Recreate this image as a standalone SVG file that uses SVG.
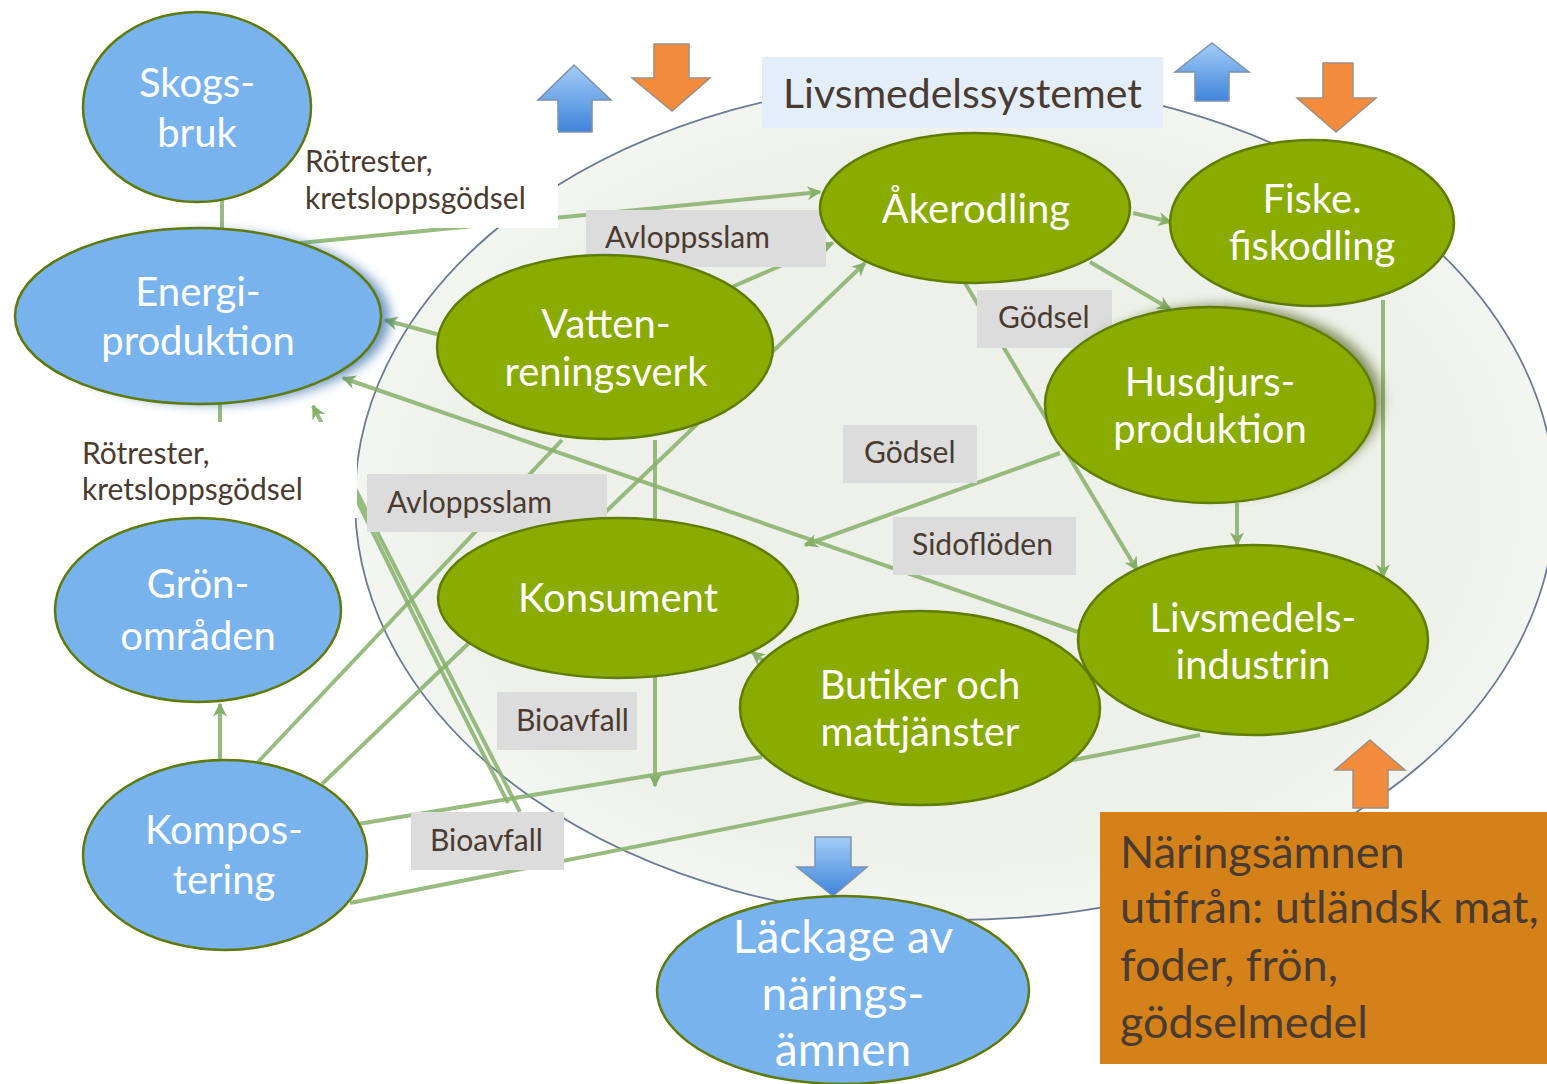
<svg xmlns="http://www.w3.org/2000/svg" width="1547" height="1084" viewBox="0 0 1547 1084">
<defs>
  <style>
    .blue{fill:#79b3ee;stroke:#5f7a08;stroke-width:2.5}
    .green{fill:#8aab00;stroke:#5f7d00;stroke-width:2.5}
    .nt{font-family:Lato,"Open Sans","Liberation Sans",sans-serif;fill:#ffffff;text-anchor:middle;font-size:40px}
    .lt{font-family:Lato,"Open Sans","Liberation Sans",sans-serif;fill:#4a3b30;font-size:30px}
    .lbox{fill:#dcdcdc}
    .wbox{fill:#ffffff}
    .con{fill:none;stroke:#86b06a;stroke-width:4;stroke-opacity:0.85}
    .arr{marker-end:url(#ah)}
    .bArrow{fill:url(#blueG);stroke:#7d93ad;stroke-width:1.5}
    .oArrow{fill:#f28c3c;stroke:#a08e82;stroke-width:1.5}
  </style>
  <marker id="ah" viewBox="0 0 10 10" refX="9" refY="5" markerUnits="userSpaceOnUse" markerWidth="16" markerHeight="14" orient="auto">
    <path d="M0,0 L10,5 L0,10 L3,5 z" fill="#86b06a"/>
  </marker>
  <linearGradient id="blueG" x1="0" y1="0" x2="0" y2="1">
    <stop offset="0" stop-color="#a3cdf7"/>
    <stop offset="1" stop-color="#3f84da"/>
  </linearGradient>
  <radialGradient id="sysG" cx="0.5" cy="0.5" r="0.5">
    <stop offset="0.85" stop-color="#eef1ea"/>
    <stop offset="1" stop-color="#f3f5f1"/>
  </radialGradient>
  <filter id="blur6" x="-20%" y="-20%" width="140%" height="140%">
    <feGaussianBlur stdDeviation="6"/>
  </filter>
</defs>

<rect width="1547" height="1084" fill="#ffffff"/>

<!-- system boundary -->
<g id="system">
  <ellipse cx="955" cy="500" rx="600" ry="420" fill="url(#sysG)" stroke="#6b7b95" stroke-width="1.8"/>
</g>

<!-- block arrows -->
<g id="flow-arrows">
  <path class="bArrow" d="M574,65 L611,100 L592,100 L592,132 L558,132 L558,100 L538,100 Z"/>
  <path class="oArrow" d="M654,44 L689,44 L689,78 L710,78 L672,111 L632,78 L654,78 Z"/>
  <path class="bArrow" d="M1212,43 L1249,72 L1229,72 L1229,101 L1195,101 L1195,72 L1175,72 Z"/>
  <path class="oArrow" d="M1323,63 L1353,63 L1353,98 L1376,98 L1336,132 L1297,98 L1323,98 Z"/>
  <path class="bArrow" d="M815,837 L851,837 L851,867 L867,867 L833,896 L797,867 L815,867 Z"/>
  <path class="oArrow" d="M1370,740 L1405,770 L1388,770 L1388,808 L1353,808 L1353,770 L1335,770 Z"/>
</g>

<!-- connectors -->
<g id="connectors">
  <path class="con" d="M222,200 L222,232"/>
  <path class="con" d="M220,404 L220,520"/>
  <path class="con arr" d="M220,760 L220,704"/>
  <path class="con arr" d="M300,243 L820,192"/>
  <path class="con arr" d="M440,335 L385,320"/>
  <path class="con arr" d="M1078,632 L343,378"/>
  <path class="con arr" d="M520,812 L313,406"/>
  <path class="con" d="M508,803 Q430,650 335,455"/>
  <path class="con arr" d="M322,784 L865,263"/>
  <path class="con" d="M258,762 L562,440"/>
  <path class="con arr" d="M725,290 L833,243"/>
  <path class="con arr" d="M655,440 L655,786"/>
  <path class="con" d="M358,824 L762,757"/>
  <path class="con" d="M350,903 L1200,735"/>
  <path class="con arr" d="M1133,213 L1171,222"/>
  <path class="con arr" d="M1090,262 L1170,309"/>
  <path class="con arr" d="M965,283 L1137,570"/>
  <path class="con arr" d="M1060,453 L805,545"/>
  <path class="con arr" d="M1237,503 L1237,545"/>
  <path class="con arr" d="M1383,300 L1383,577"/>
  <path class="con arr" d="M780,674 L752,652"/>
</g>

<!-- label boxes -->
<g id="labels">
  <g id="lbl-rotrester-top">
    <rect class="wbox" x="300" y="130" width="258" height="98"/>
    <text class="lt" x="305" y="172">Rötrester,</text>
    <text class="lt" x="305" y="209">kretsloppsgödsel</text>
  </g>
  <g id="lbl-avloppsslam-top">
    <rect class="lbox" x="586" y="210" width="240" height="57"/>
    <text class="lt" x="605" y="248">Avloppsslam</text>
  </g>
  <g id="lbl-godsel-top">
    <rect class="lbox" x="977" y="290" width="135" height="58"/>
    <text class="lt" x="998" y="328">Gödsel</text>
  </g>
  <g id="lbl-godsel-mid">
    <rect class="lbox" x="843" y="425" width="134" height="58"/>
    <text class="lt" x="864" y="463">Gödsel</text>
  </g>
  <g id="lbl-sidofloden">
    <rect class="lbox" x="893" y="517" width="183" height="58"/>
    <text class="lt" x="912" y="555">Sidoflöden</text>
  </g>
  <g id="lbl-rotrester-left">
    <rect class="wbox" x="52" y="422" width="305" height="96"/>
    <text class="lt" x="82" y="464">Rötrester,</text>
    <text class="lt" x="82" y="500">kretsloppsgödsel</text>
  </g>
  <g id="lbl-avloppsslam-low">
    <rect class="lbox" x="367" y="474" width="240" height="58"/>
    <text class="lt" x="387" y="513">Avloppsslam</text>
  </g>
  <g id="lbl-bioavfall-1">
    <rect class="lbox" x="497" y="692" width="140" height="58"/>
    <text class="lt" x="516" y="731">Bioavfall</text>
  </g>
  <g id="lbl-bioavfall-2">
    <rect class="lbox" x="411" y="812" width="153" height="58"/>
    <text class="lt" x="430" y="851">Bioavfall</text>
  </g>
  <g id="lbl-system">
    <rect x="762" y="57" width="401" height="71" fill="#e3eefa"/>
    <text class="lt" x="783" y="108" style="font-size:41px">Livsmedelssystemet</text>
  </g>
</g>

<!-- nodes -->
<g id="skogsbruk">
  <ellipse class="blue" cx="197" cy="107" rx="114" ry="95"/>
  <text class="nt" x="197" y="97">Skogs-</text>
  <text class="nt" x="197" y="147">bruk</text>
</g>
<g id="energiproduktion">
  <ellipse cx="212" cy="318" rx="178" ry="86" fill="#2f6aa8" opacity="0.7" filter="url(#blur6)"/>
  <ellipse class="blue" cx="198" cy="316" rx="183" ry="88"/>
  <text class="nt" x="198" y="306">Energi-</text>
  <text class="nt" x="198" y="355">produktion</text>
</g>
<g id="gronomraden">
  <ellipse class="blue" cx="198" cy="610" rx="143" ry="92"/>
  <text class="nt" x="198" y="598">Grön-</text>
  <text class="nt" x="198" y="650">områden</text>
</g>
<g id="kompostering">
  <ellipse class="blue" cx="225" cy="855" rx="142" ry="95"/>
  <text class="nt" x="224" y="844">Kompos-</text>
  <text class="nt" x="224" y="894">tering</text>
</g>
<g id="lackage">
  <ellipse class="blue" cx="843" cy="990" rx="186" ry="94"/>
  <text class="nt" x="843" y="953" style="font-size:46px">Läckage av</text>
  <text class="nt" x="843" y="1010" style="font-size:46px">närings-</text>
  <text class="nt" x="843" y="1066" style="font-size:46px">ämnen</text>
</g>
<g id="akerodling">
  <ellipse class="green" cx="975" cy="208" rx="155" ry="75"/>
  <text class="nt" x="976" y="223">Åkerodling</text>
</g>
<g id="fiske">
  <ellipse class="green" cx="1312" cy="223" rx="142" ry="83"/>
  <text class="nt" x="1312" y="213">Fiske.</text>
  <text class="nt" x="1312" y="260">fiskodling</text>
</g>
<g id="vattenreningsverk">
  <ellipse class="green" cx="605" cy="347" rx="168" ry="92"/>
  <text class="nt" x="606" y="338">Vatten-</text>
  <text class="nt" x="606" y="386">reningsverk</text>
</g>
<g id="husdjursproduktion">
  <ellipse cx="1222" cy="400" rx="160" ry="95" fill="#3d5200" opacity="0.6" filter="url(#blur6)"/>
  <ellipse class="green" cx="1210" cy="405" rx="165" ry="98"/>
  <text class="nt" x="1210" y="396">Husdjurs-</text>
  <text class="nt" x="1210" y="443">produktion</text>
</g>
<g id="konsument">
  <ellipse class="green" cx="618" cy="598" rx="180" ry="80"/>
  <text class="nt" x="618" y="612">Konsument</text>
</g>
<g id="butiker">
  <ellipse class="green" cx="920" cy="708" rx="180" ry="97"/>
  <text class="nt" x="920" y="699">Butiker och</text>
  <text class="nt" x="920" y="746">mattjänster</text>
</g>
<g id="livsmedelsindustrin">
  <ellipse class="green" cx="1253" cy="640" rx="175" ry="95"/>
  <text class="nt" x="1253" y="632">Livsmedels-</text>
  <text class="nt" x="1253" y="679">industrin</text>
</g>

<!-- external nutrients box -->
<g id="naringsamnen">
  <rect x="1100" y="812" width="447" height="252" fill="#d4811a"/>
  <text class="lt" x="1120" y="868" style="font-size:45px">Näringsämnen</text>
  <text class="lt" x="1120" y="923" style="font-size:45px">utifrån: utländsk mat,</text>
  <text class="lt" x="1120" y="981" style="font-size:45px">foder, frön,</text>
  <text class="lt" x="1120" y="1038" style="font-size:45px">gödselmedel</text>
</g>
</svg>
